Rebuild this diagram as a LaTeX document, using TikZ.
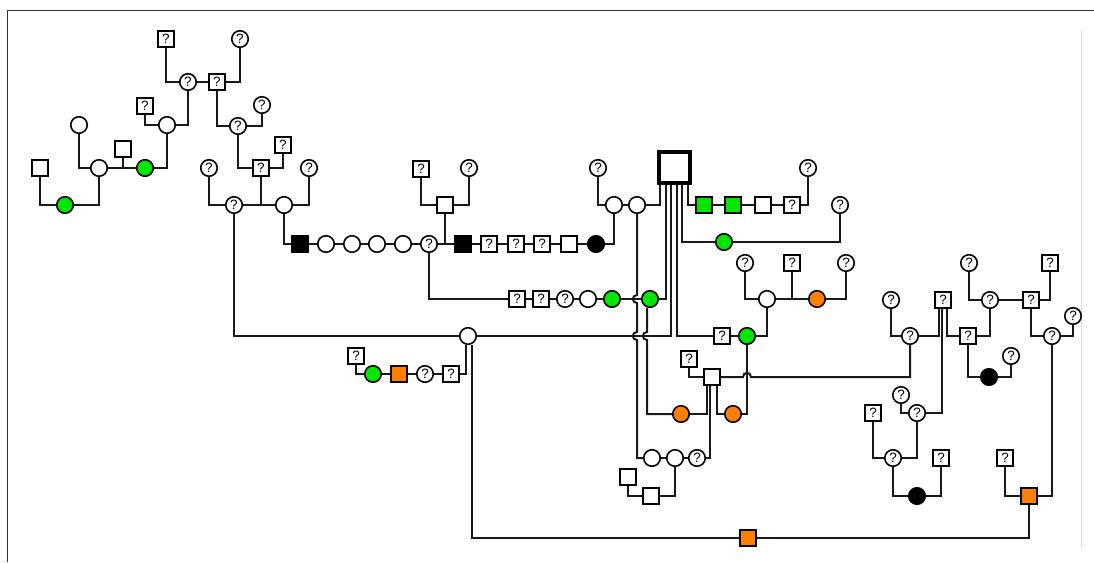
\documentclass[tikz,border=0pt]{standalone}
\usepackage{fontspec}
\setmainfont{Liberation Sans}
\usetikzlibrary{calc}
\definecolor{affgreen}{RGB}{0,230,0}
\definecolor{carorange}{RGB}{255,128,0}
\tikzset{
  ind/.style={draw, line width=1.6pt, minimum size=16.5pt, inner sep=0pt, fill=white,
    font=\fontsize{13.5}{13.5}\selectfont},
  fem/.style={ind, circle},
  mal/.style={ind, rectangle},
  grn/.style={fill=affgreen},
  org/.style={fill=carorange},
  blk/.style={fill=black},
  rel/.style={line width=2pt, black!90},
}

\begin{document}
\begin{tikzpicture}[x=1pt, y=-1pt]
  \useasboundingbox (0,0) rectangle (1094,562);
  \draw[black!80, line width=1pt] (1094,10) -- (7,10) -- (7,562);
  \draw[black!12, line width=1pt] (1081,30) -- (1081,548);

  % top left
  \node[mal] (a1) at (166,39) {?};
  \node[fem] (a2) at (240,39) {?};
  \node[fem] (a3) at (188,82) {?};
  \node[mal] (a4) at (217,82) {?};
  \node[mal] (a5) at (145,106) {?};
  \node[fem] (a6) at (167,125) {};
  \node[fem] (a7) at (262,105) {?};
  \node[fem] (a8) at (238,126) {?};
  \node[fem] (a9) at (79,125) {};
  \node[mal] (a10) at (123,149) {};
  \node[fem] (a11) at (99,168) {};
  \node[fem,grn] (a12) at (145,168) {};
  \node[mal] (a13) at (283,145) {?};
  \node[mal] (a14) at (261,168) {?};
  \node[mal] (a15) at (40,168) {};
  \node[fem,grn] (a16) at (65,205) {};

  % long line
  \node[fem] (b1) at (209,168) {?};
  \node[fem] (b2) at (234,205) {?};
  \node[fem] (b3) at (284,205) {};
  \node[fem] (b4) at (309,168) {?};
  \node[mal,blk] (b5) at (300,244) {};
  \node[fem] (b6) at (326,244) {};
  \node[fem] (b7) at (352,244) {};
  \node[fem] (b8) at (377,244) {};
  \node[fem] (b9) at (403,244) {};
  \node[fem] (b10) at (429,244) {?};
  \node[mal,blk] (b11) at (463,244) {};
  \node[mal] (b12) at (489,244) {?};
  \node[mal] (b13) at (516,244) {?};
  \node[mal] (b14) at (542,244) {?};
  \node[mal] (b15) at (569,244) {};
  \node[fem,blk] (b16) at (596,244) {};
  \node[mal] (c1) at (421,169) {?};
  \node[fem] (c2) at (469,168) {?};
  \node[mal] (c3) at (445,205) {};
  \node[fem] (c4) at (598,168) {?};
  \node[fem] (c5) at (614,205) {};
  \node[fem] (c6) at (637,205) {};
  \node[draw, line width=3.5pt, minimum size=31pt, fill=white] (big) at (674.5,167.5) {};

  \node[mal] (d1) at (517,299) {?};
  \node[mal] (d2) at (541,299) {?};
  \node[fem] (d3) at (565,299) {?};
  \node[fem] (d4) at (588,299) {};
  \node[fem,grn] (d5) at (612,299) {};
  \node[fem,grn] (d6) at (650,299) {};
  \node[fem] (e1) at (468,336) {};
  \node[mal] (f1) at (722,336) {?};
  \node[fem,grn] (f2) at (747,336) {};
  \node[fem,grn] (g1) at (724,242) {};
  \node[fem] (g2) at (840,205) {?};
  \node[mal,grn] (h1) at (704,205) {};
  \node[mal,grn] (h2) at (733,205) {};
  \node[mal] (h3) at (763,205) {};
  \node[mal] (h4) at (792,205) {?};
  \node[fem] (h5) at (808,168) {?};

  % centre bottom
  \node[fem,org] (l1) at (681,414) {};
  \node[fem,org] (l2) at (733,414) {};
  \node[mal] (m0) at (689,359) {?};
  \node[mal] (m1) at (712,377) {};
  \node[fem] (k1) at (652,458) {};
  \node[fem] (k2) at (675,458) {};
  \node[fem] (k3) at (697,458) {?};
  \node[mal] (k4) at (628,477) {};
  \node[mal] (k5) at (651,496) {};
  \node[fem] (p1) at (767,299) {};
  \node[fem] (p2) at (745,263) {?};
  \node[mal] (p3) at (792,263) {?};
  \node[fem,org] (p4) at (817,299) {};
  \node[fem] (p5) at (846,263) {?};

  % bottom left
  \node[mal] (q1) at (356,356) {?};
  \node[fem,grn] (q2) at (373,374) {};
  \node[mal,org] (q3) at (399,374) {};
  \node[fem] (q4) at (425,374) {?};
  \node[mal] (q5) at (451,374) {?};
  \node[mal,org] (r1) at (748,538) {};
  \node[mal,org] (r2) at (1029,496) {};

  % right
  \node[fem] (n1) at (891,300) {?};
  \node[fem] (n2) at (910,336) {?};
  \node[mal] (n3) at (943,300) {?};
  \node[fem] (n5) at (901,395) {?};
  \node[fem] (n6) at (917,413) {?};
  \node[fem] (n7) at (893,458) {?};
  \node[mal] (n8) at (873,413) {?};
  \node[fem,blk] (n9) at (917,496) {};
  \node[mal] (n11) at (941,458) {?};
  \node[mal] (n10) at (968,336) {?};
  \node[fem,blk] (n12) at (989,377) {};
  \node[fem] (n13) at (1011,356) {?};
  \node[fem] (s1) at (969,263) {?};
  \node[fem] (s2) at (990,300) {?};
  \node[mal] (s3) at (1031,300) {?};
  \node[mal] (s4) at (1050,263) {?};
  \node[fem] (s5) at (1052,336) {?};
  \node[fem] (s6) at (1073,316) {?};
  \node[mal] (s7) at (1005,458) {?};

  \coordinate (d6b) at ([xshift=-3pt]d6.south);

  % connectors
  \draw[rel] (a1) |- (a3) -- (a4) -| (a2);
  \draw[rel] (a3) |- (a6);
  \draw[rel] (a5) |- (a6);
  \draw[rel] (a4) |- (a8);
  \draw[rel] (a7) |- (a8);
  \draw[rel] (a8) |- (a14);
  \draw[rel] (a13) |- (a14);
  \draw[rel] (a6) |- (a12);
  \draw[rel] (a9) |- (a11) -- (a12);
  \draw[rel] (a10) -- (a10 |- a11);
  \draw[rel] (a11) |- (a16);
  \draw[rel] (a15) |- (a16);
  \draw[rel] (b1) |- (b2) -- (b3);
  \draw[rel] (a14) -- (a14 |- b2);
  \draw[rel] (b4) |- (b3);
  \draw[rel] (b3) |- (b5) -- (b6) -- (b7) -- (b8) -- (b9) -- (b10) -- (b11)
    -- (b12) -- (b13) -- (b14) -- (b15) -- (b16);
  \draw[rel] (c1) |- (c3);
  \draw[rel] (c2) |- (c3);
  \draw[rel] (c3) -- (c3 |- b10);
  \draw[rel] (c4) |- (c5) -- (c6);
  \draw[rel] (b16) -| (c5);
  \draw[rel] ([xshift=-14.5pt]big.south) |- (c6);
  \draw[rel] (b10) |- (d1) -- (d2) -- (d3) -- (d4) -- (d5) -- (d6);
  \draw[rel] ([xshift=-8.5pt]big.south) |- (d6);
  \draw[rel] (b2) |- (e1);
  \draw[rel] (e1) -| ([xshift=-3.5pt]big.south);
  \draw[rel] ([xshift=2.5pt]big.south) |- (f1) -- (f2);
  \draw[rel] ([xshift=7.5pt]big.south) |- (g1) -| (g2);
  \draw[rel] ([xshift=13.5pt]big.south) |- (h1) -- (h2) -- (h3) -- (h4) -| (h5);
  % lines that hop over
  \draw[rel] (c6) -- ($(c6 |- d6)+(0,-4)$) .. controls +(-5.5,0) and +(-5.5,0) .. ++(0,8)
    -- ($(c6 |- e1)+(0,-4)$) .. controls +(-5.5,0) and +(-5.5,0) .. ++(0,8) |- (k1);
  \draw[rel] (d6b) -- ($(d6b |- e1)+(0,-4)$) .. controls +(-5.5,0) and +(-5.5,0) .. ++(0,8)
    |- (l1);
  \draw[rel] (m1) -- ($(f2 |- m1)+(-4,0)$) .. controls +(0,-5.5) and +(0,-5.5) .. ++(8,0)
    -| (n2);
  \draw[rel] (l1) -| ([xshift=-5pt]m1.south);
  \draw[rel] ([xshift=-2pt]m1.south) |- (k3);
  \draw[rel] ([xshift=5pt]m1.south) |- (l2);
  \draw[rel] (m0) |- (m1);
  \draw[rel] (l2) -| (f2);
  \draw[rel] (f2) -| (p1);
  \draw[rel] (p2) |- (p1) -- (p4) -| (p5);
  \draw[rel] (p3) -- (p3 |- p1);
  \draw[rel] (k1) -- (k2) -- (k3);
  \draw[rel] (k2) |- (k5);
  \draw[rel] (k4) |- (k5);
  \draw[rel] (q1) |- (q2) -- (q3) -- (q4) -- (q5);
  \draw[rel] (q5) -| ([xshift=-2pt]e1.south);
  \draw[rel] ([xshift=4pt]e1.south) |- (r1) -| (r2);
  \draw[rel] (n1) |- (n2);
  \draw[rel] (n2) -| ([xshift=-4pt]n3.south);
  \draw[rel] ([xshift=-1pt]n3.south) |- (n6);
  \draw[rel] ([xshift=4pt]n3.south) |- (n10);
  \draw[rel] (n5) |- (n6);
  \draw[rel] (n6) |- (n7);
  \draw[rel] (n8) |- (n7);
  \draw[rel] (n7) |- (n9) -| (n11);
  \draw[rel] (n10) |- (n12) -| (n13);
  \draw[rel] (s1) |- (s2) -- (s3);
  \draw[rel] (s2) |- (n10);
  \draw[rel] (s4) |- (s3);
  \draw[rel] (s3) |- (s5);
  \draw[rel] (s6) |- (s5);
  \draw[rel] (s5) |- (r2);
  \draw[rel] (s7) |- (r2);
\end{tikzpicture}
\end{document}
